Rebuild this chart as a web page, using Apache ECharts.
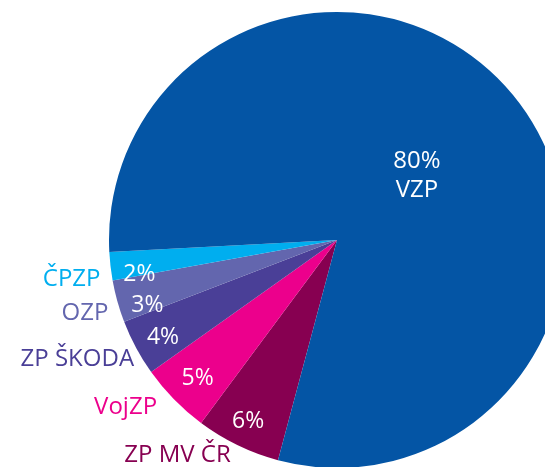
<!DOCTYPE html>
<html>
<head>
<meta charset="utf-8">
<style>
  html, body { margin: 0; padding: 0; background: #fff; }
  #main { width: 545px; height: 467px; }
</style>
<script src="https://cdn.jsdelivr.net/npm/echarts@6/dist/echarts.min.js"></script>
</head>
<body>
<div id="main"></div>
<script>
// order follows the pie clockwise, starting at the bottom boundary
var names = ['ZP MV ČR', 'VojZP', 'ZP ŠKODA', 'OZP', 'ČPZP', 'VZP']
var shares = [6, 5, 4, 3, 2, 80]
var colors = ['#870051', '#ec008c', '#4a3f97', '#6366ae', '#00aeef', '#0455a5']

// small label nudges [x, y] to sit like the original layout
var pctShift = [[-1, 0], [5, -3], [4, 2], [5, 11], [3, 11], [0, 0]]
var nameShift = [[1, 10], [-9, 8], [6, 11], [-1, 12], [-2, 13], [0, 0]]

var chart = echarts.init(document.getElementById('main'))
var font = '"Open Sans", "Noto Sans", sans-serif'
var center = [337, 240]
var R = 228
var start = 255

var base = names.map(function (n, i) {
  return {
    name: n,
    value: shares[i],
    itemStyle: { color: colors[i] },
    label: { show: n === 'VZP', offset: [-11, 9] }
  }
})

// percent labels for the small slices sit near the rim
var pctRing = names.map(function (n, i) {
  return {
    name: n,
    value: shares[i],
    label: { show: n !== 'VZP', offset: pctShift[i] }
  }
})

// slice names outside, coloured like the slice
var nameRing = names.map(function (n, i) {
  return {
    name: n,
    value: shares[i],
    label: { show: n !== 'VZP', color: colors[i], offset: nameShift[i] }
  }
})

var option = {
  animation: false,
  series: [
    {
      type: 'pie',
      center: center,
      radius: R,
      startAngle: start,
      avoidLabelOverlap: false,
      silent: true,
      data: base,
      label: {
        position: 'inside',
        color: '#fff',
        fontFamily: font,
        fontSize: 24,
        lineHeight: 29,
        formatter: function (p) { return p.value + '%\n' + p.name }
      },
      labelLine: { show: false }
    },
    {
      type: 'pie',
      center: center,
      radius: [170, R],
      startAngle: start,
      avoidLabelOverlap: false,
      silent: true,
      data: pctRing,
      itemStyle: { color: 'rgba(0,0,0,0)' },
      label: {
        position: 'inside',
        color: '#fff',
        fontFamily: font,
        fontSize: 23,
        formatter: function (p) { return p.value + '%' }
      },
      labelLine: { show: false }
    },
    {
      type: 'pie',
      center: center,
      radius: R,
      startAngle: start,
      avoidLabelOverlap: false,
      silent: true,
      data: nameRing,
      itemStyle: { color: 'rgba(0,0,0,0)' },
      label: {
        position: 'outside',
        fontFamily: font,
        fontSize: 24,
        distanceToLabelLine: 8,
        formatter: '{b}'
      },
      labelLine: { show: false, length: 0, length2: 0 }
    }
  ]
}

chart.setOption(option)
</script>
</body>
</html>
